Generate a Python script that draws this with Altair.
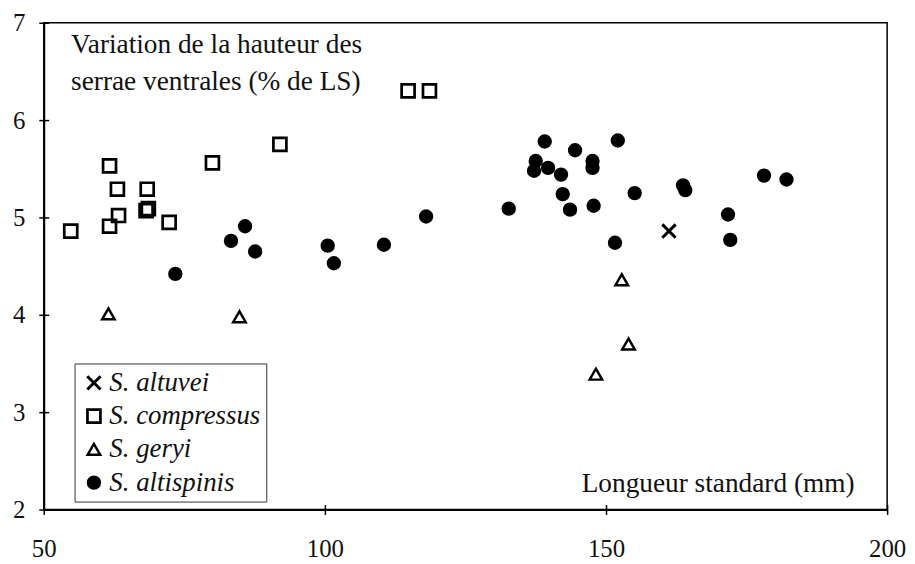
import altair as alt
import pandas as pd

species_order = ["S. altuvei", "S. compressus", "S. geryi", "S. altispinis"]

altuvei_x = [161.2]
altuvei_y = [4.86]

compressus_x = [54.8, 61.7, 63.1, 63.3, 61.7, 68.4, 68.2, 68.6, 72.3, 80.0, 92.0, 114.8, 118.6]
compressus_y = [4.86, 5.53, 5.29, 5.02, 4.91, 5.29, 5.07, 5.09, 4.95, 5.56, 5.75, 6.30, 6.30]

geryi_x = [61.5, 84.8, 152.8, 154.0, 148.2]
geryi_y = [4.01, 3.98, 4.36, 3.70, 3.39]

altispinis_x = [73.4, 83.3, 85.8, 87.6, 100.5, 101.6, 110.5, 118.0, 132.7, 137.2,
                137.5, 139.1, 139.7, 142.0, 142.3, 143.6, 144.5, 147.6, 147.6, 147.8,
                151.6, 152.1, 155.1, 163.7, 164.1, 171.7, 172.1, 178.1, 182.1]
altispinis_y = [4.42, 4.76, 4.91, 4.65, 4.71, 4.53, 4.72, 5.01, 5.09, 5.48,
                5.58, 5.78, 5.51, 5.44, 5.24, 5.08, 5.69, 5.58, 5.51, 5.12,
                4.74, 5.79, 5.25, 5.33, 5.28, 5.03, 4.77, 5.43, 5.39]

x_ticks = [50, 100, 150, 200]
y_ticks = [2, 3, 4, 5, 6, 7]

rows = []
for name, xs, ys in [
    ("S. altuvei", altuvei_x, altuvei_y),
    ("S. compressus", compressus_x, compressus_y),
    ("S. geryi", geryi_x, geryi_y),
    ("S. altispinis", altispinis_x, altispinis_y),
]:
    for a, b in zip(xs, ys):
        rows.append({"species": name, "ls": a, "h": b})
df = pd.DataFrame(rows)

FONT = "Liberation Serif"
xscale = alt.Scale(domain=[50, 200], nice=False, zero=False)
yscale = alt.Scale(domain=[2, 7], nice=False, zero=False)

inner_ticks = alt.Chart(df).mark_point(opacity=0).encode(
    x=alt.X("ls:Q", scale=xscale,
            axis=alt.Axis(values=x_ticks, orient="bottom", offset=-5, labels=False,
                          domain=False, title=None, tickSize=5, tickWidth=1.5, grid=False)),
    y=alt.Y("h:Q", scale=yscale,
            axis=alt.Axis(values=y_ticks, orient="left", offset=-5, labels=False,
                          domain=False, title=None, tickSize=5, tickWidth=1.5, grid=False)),
)

points = alt.Chart(df).mark_point(opacity=1).encode(
    x=alt.X("ls:Q", scale=xscale,
            axis=alt.Axis(values=x_ticks, orient="bottom", labelFlush=False, labelPadding=22,
                          title="Longueur standard (mm)", titleX=541, titleY=-18,
                          titleAlign="left", titleBaseline="alphabetic")),
    y=alt.Y("h:Q", scale=yscale,
            axis=alt.Axis(values=y_ticks, orient="left", labelFlush=False, labelPadding=14,
                          title=["Variation de la hauteur des", "serrae ventrales (% de LS)"],
                          titleAngle=0, titleX=27, titleY=30, titleAlign="left",
                          titleBaseline="alphabetic", titleLineHeight=37)),
    shape=alt.Shape("species:N", title=None,
                    scale=alt.Scale(domain=species_order,
                                    range=["M-1,-1L1,1M-1,1L1,-1", "square", "triangle-up", "circle"])),
    fill=alt.Fill("species:N", title=None,
                  scale=alt.Scale(domain=species_order,
                                  range=["transparent", "transparent", "transparent", "black"])),
    stroke=alt.Stroke("species:N", title=None,
                      scale=alt.Scale(domain=species_order,
                                      range=["black", "black", "black", "black"])),
    size=alt.Size("species:N", title=None,
                  scale=alt.Scale(domain=species_order, range=[180, 150, 210, 330])),
    strokeWidth=alt.StrokeWidth("species:N", title=None,
                                scale=alt.Scale(domain=species_order, range=[3, 2.2, 3.4, 1])),
)

chart = alt.layer(inner_ticks, points).resolve_axis(
    x="independent", y="independent"
).properties(
    width=849, height=490,
    autosize=alt.AutoSizeParams(type="none"),
    padding={"left": 36, "top": 13, "right": 20, "bottom": 52},
    background="white",
).configure_view(
    stroke="black", strokeWidth=1.5
).configure_axis(
    labelFont=FONT, labelFontSize=25, labelColor="#111",
    domainColor="black", domainWidth=2, tickColor="black", tickWidth=1.5, tickSize=5,
    grid=False, titleFont=FONT, titleFontSize=27.5, titleFontWeight="normal", titleColor="#111",
).configure_legend(
    orient="none", legendX=31, legendY=343,
    strokeColor="#333", fillColor="white", padding=6, rowPadding=5.5,
    labelFont=FONT, labelFontSize=27, labelFontStyle="italic", labelColor="#111",
    labelOffset=2, labelLimit=400, symbolStrokeColor="black",
)

chart.save("out.html", embed_options={"renderer": "svg", "actions": False})
